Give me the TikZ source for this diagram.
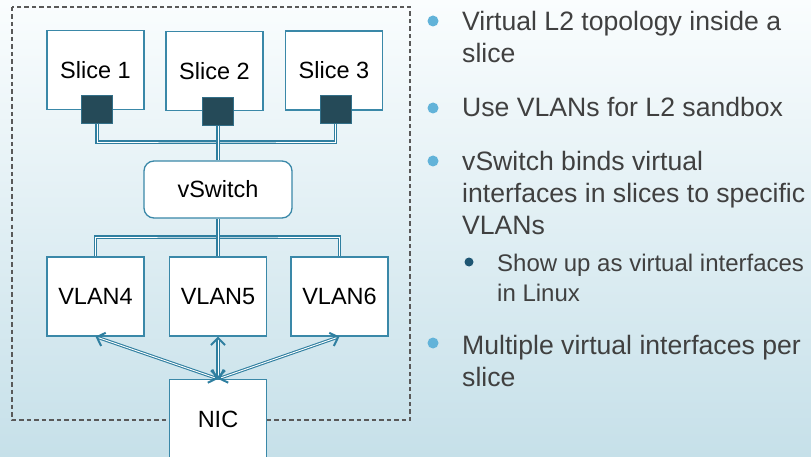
\documentclass[tikz,border=0pt]{standalone}
\usepackage{fontspec}
\setmainfont{Liberation Sans}
\usetikzlibrary{arrows.meta}
\usetikzlibrary{calc}
\definecolor{edgeblue}{HTML}{3A88A8}
\definecolor{linkblue}{HTML}{2F7FA0}
\definecolor{portfill}{HTML}{254A58}
\definecolor{textgray}{HTML}{404040}
\definecolor{dotblue}{HTML}{62B3D9}
\definecolor{dotdark}{HTML}{1E5673}
\definecolor{bgtop}{HTML}{FAFDFE}
\definecolor{bgmid}{HTML}{F0F8FB}
\definecolor{bgbottom}{HTML}{C6E0E9}
\tikzset{
  box/.style={draw=edgeblue, fill=white, line width=1.3pt,
    minimum width=97pt, minimum height=79pt, inner sep=0,
    font=\fontsize{23.5}{28}\selectfont},
  port/.style={draw=edgeblue!60!portfill, fill=portfill, line width=1pt,
    minimum width=31pt, minimum height=28pt, inner sep=0},
  link/.style={draw=linkblue, line width=1.1pt, double=white, double distance=0.9pt},
  barb/.tip={Straight Barb[length=7pt, width=14pt, line width=2pt]},
  arrow/.style={link, barb-barb},
  frame/.style={draw=black!65, line width=1.2pt, dash pattern=on 4.5pt off 3pt},
  dot/.style={circle, fill=dotblue, minimum size=11pt, inner sep=0},
  point/.style={anchor=base west, align=left, inner sep=0, text=textgray,
    font=\fontsize{26.6}{32}\selectfont},
  subpoint/.style={point, font=\fontsize{24}{29.5}\selectfont}
}
\begin{document}
\begin{tikzpicture}[x=1pt, y=-1pt]
  \useasboundingbox (0,0) rectangle (811,457);
  \shade[top color=bgtop, middle color=bgmid, bottom color=bgbottom] (0,0) rectangle (811,457);
  \begin{scope}
  \clip (0,0) rectangle (811,457);

  % sandbox outline
  \draw[frame] (12,7) rectangle (410,420);

  % slices and their interfaces
  \node[box] (slice1) at (95.5,70) {Slice 1};
  \node[box] (slice2) at (214.5,71) {Slice 2};
  \node[box] (slice3) at (334,70.5) {Slice 3};
  \node[port] (port1) at (97,110) {};
  \node[port] (port2) at (218,112) {};
  \node[port] (port3) at (335.5,110) {};

  \node[box, minimum width=148pt, minimum height=57pt, rounded corners=10pt] (vswitch) at (218,189.5) {vSwitch};

  \node[box] (vlan4) at (95.5,296.5) {VLAN4};
  \node[box] (vlan5) at (218,296.5) {VLAN5};
  \node[box] (vlan6) at (339.5,296.5) {VLAN6};

  \node[box, minimum height=80pt] (nic) at (218,419.5) {NIC};

  % links
  \coordinate (topbus) at (218,142);
  \coordinate (lowbus) at (218,237);
  \draw[link] (port1.south) |- (topbus) -| (port3.south);
  \draw[link] (port2.south) -- (vswitch.north);
  \draw[link] (vlan4.north) |- (lowbus) -| (vlan6.north);
  \draw[link] (vswitch.south) -- (vlan5.north);

  \draw[arrow] (nic.north) -- (vlan4.south);
  \draw[arrow] (nic.north) -- (vlan5.south);
  \draw[arrow] (nic.north) -- (vlan6.south);
  \end{scope}

  % bullet points (node base = last line)
  \node[dot] (dot1) at (433,21) {};
  \node[dot] (dot2) at (433,108) {};
  \node[dot] (dot3) at (433,161) {};
  \node[dot, fill=dotdark, minimum size=9pt] (dot4) at (469,262) {};
  \node[dot] (dot5) at (433,343) {};

  \node[point] (item1) at (462,63) {Virtual L2 topology inside a\\slice};
  \node[point] (item2) at (462,117) {Use VLANs for L2 sandbox};
  \node[point] (item3) at (462,234) {vSwitch binds virtual\\interfaces in slices to specific\\VLANs};
  \node[subpoint] (item4) at (497,301) {Show up as virtual interfaces\\in Linux};
  \node[point] (item5) at (462,386) {Multiple virtual interfaces per\\slice};
\end{tikzpicture}
\end{document}
